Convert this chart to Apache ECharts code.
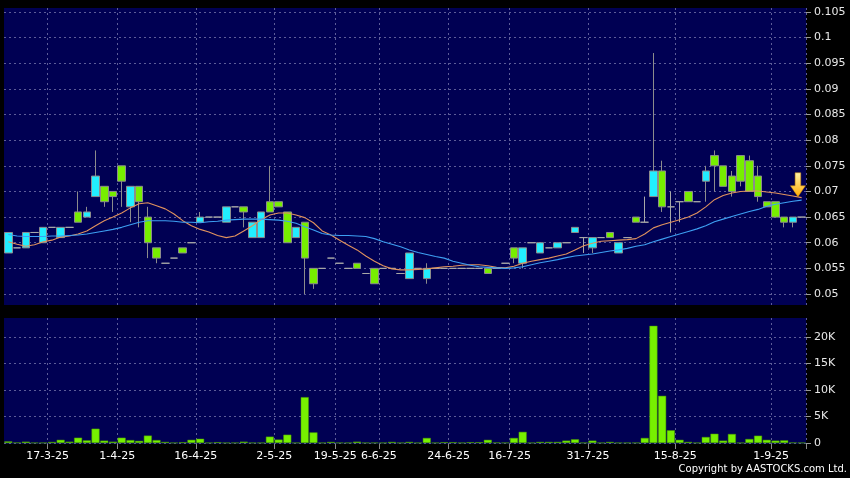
<!DOCTYPE html>
<html><head><meta charset="utf-8">
<script src="https://cdn.jsdelivr.net/npm/echarts@6/dist/echarts.min.js"></script>
<style>html,body{margin:0;padding:0;background:#000;}#c{width:850px;height:478px;}</style>
</head><body><div id="c"></div>
<script>
const opens = [
  0.058,0.059,0.059,0.062,0.060,0.063,0.061,0.063,0.066,0.065,
  0.069,0.071,0.070,0.075,0.067,0.071,0.065,0.059,0.056,0.057,
  0.059,0.060,0.064,0.065,0.065,0.064,0.067,0.067,0.061,0.061,
  0.068,0.068,0.066,0.061,0.064,0.055,0.055,0.057,0.056,0.055,
  0.056,0.054,0.055,0.055,0.055,0.054,0.053,0.055,0.053,0.055,
  0.055,0.055,0.055,0.055,0.055,0.055,0.055,0.056,0.059,0.056,
  0.060,0.058,0.059,0.059,0.060,0.062,0.061,0.059,0.061,0.062,
  0.058,0.061,0.065,0.064,0.069,0.074,0.067,0.068,0.070,0.068,
  0.072,0.077,0.075,0.073,0.077,0.076,0.073,0.068,0.068,0.065,
  0.064,0.065];
const closes = [
  0.062,0.059,0.062,0.062,0.063,0.063,0.063,0.063,0.064,0.066,
  0.073,0.068,0.069,0.072,0.071,0.068,0.060,0.057,0.056,0.057,
  0.058,0.060,0.065,0.065,0.065,0.067,0.067,0.066,0.064,0.066,
  0.066,0.067,0.060,0.063,0.057,0.052,0.055,0.057,0.056,0.055,
  0.055,0.054,0.052,0.055,0.055,0.054,0.058,0.055,0.055,0.055,
  0.055,0.055,0.055,0.055,0.055,0.054,0.055,0.056,0.057,0.059,
  0.060,0.060,0.059,0.060,0.060,0.063,0.061,0.061,0.061,0.061,
  0.060,0.061,0.064,0.064,0.074,0.067,0.067,0.068,0.068,0.068,
  0.074,0.075,0.071,0.070,0.072,0.070,0.069,0.067,0.065,0.064,
  0.065,0.065];
const lows = [
  0.058,0.059,0.059,0.062,0.060,0.063,0.061,0.063,0.064,0.065,
  0.069,0.067,0.066,0.067,0.064,0.063,0.057,0.056,0.056,0.057,
  0.058,0.060,0.064,0.065,0.065,0.064,0.067,0.063,0.061,0.061,
  0.066,0.067,0.060,0.061,0.050,0.051,0.055,0.057,0.056,0.055,
  0.055,0.054,0.052,0.055,0.055,0.054,0.053,0.055,0.052,0.055,
  0.055,0.055,0.055,0.055,0.055,0.054,0.055,0.056,0.056,0.055,
  0.060,0.058,0.059,0.059,0.060,0.062,0.058,0.058,0.061,0.061,
  0.058,0.061,0.064,0.064,0.069,0.066,0.062,0.064,0.068,0.068,
  0.068,0.070,0.071,0.069,0.071,0.070,0.068,0.067,0.065,0.063,
  0.063,0.065];
const highs = [
  0.062,0.059,0.062,0.062,0.063,0.063,0.063,0.063,0.070,0.067,
  0.078,0.071,0.070,0.075,0.071,0.071,0.067,0.059,0.056,0.057,
  0.059,0.060,0.066,0.065,0.065,0.067,0.067,0.067,0.064,0.066,
  0.075,0.068,0.066,0.063,0.064,0.055,0.055,0.057,0.056,0.055,
  0.056,0.054,0.055,0.055,0.055,0.054,0.058,0.055,0.056,0.055,
  0.055,0.055,0.055,0.055,0.055,0.055,0.055,0.056,0.059,0.059,
  0.060,0.060,0.059,0.060,0.060,0.063,0.061,0.061,0.061,0.062,
  0.060,0.061,0.065,0.069,0.097,0.076,0.070,0.068,0.070,0.068,
  0.075,0.078,0.075,0.074,0.077,0.077,0.075,0.068,0.068,0.065,
  0.065,0.065];
const volumes = [
  300,100,250,50,50,200,600,250,1000,500,
  2700,450,250,1000,550,400,1400,550,200,50,
  150,600,800,50,150,50,50,250,50,50,
  1200,650,1570,50,8650,2000,50,200,50,50,
  250,50,50,50,200,50,200,50,950,50,
  150,150,50,150,150,600,100,50,950,2100,
  50,200,200,200,450,700,50,450,50,200,
  50,50,50,950,22100,8900,2400,600,200,50,
  1130,1750,450,1700,50,750,1380,600,450,500,
  100,50];
const ma10 = [
  0.0602,0.0597,0.0593,0.0596,0.0602,0.0605,0.0611,0.0613,0.0617,0.0623,
  0.0633,0.0643,0.0650,0.0658,0.0668,0.0676,0.0678,0.0672,0.0666,0.0656,
  0.0643,0.0633,0.0626,0.0621,0.0614,0.0610,0.0613,0.0623,0.0633,0.0645,
  0.0654,0.0658,0.0658,0.0654,0.0649,0.0639,0.0623,0.0615,0.0605,0.0595,
  0.0586,0.0574,0.0564,0.0555,0.0549,0.0547,0.0547,0.0548,0.0549,0.0551,
  0.0553,0.0554,0.0556,0.0557,0.0557,0.0555,0.0552,0.0551,0.0554,0.0560,
  0.0564,0.0567,0.0570,0.0574,0.0578,0.0586,0.0594,0.0599,0.0603,0.0604,
  0.0605,0.0606,0.0608,0.0617,0.0629,0.0635,0.0640,0.0645,0.0650,0.0658,
  0.0670,0.0684,0.0692,0.0697,0.0700,0.0701,0.0701,0.0699,0.0697,0.0694,
  0.0691,0.0688];
const ma20 = [
  0.0616,0.0613,0.0612,0.0612,0.0612,0.0613,0.0613,0.0614,0.0615,0.0617,
  0.0620,0.0623,0.0626,0.0630,0.0635,0.0640,0.0643,0.0643,0.0643,0.0642,
  0.0640,0.0640,0.0639,0.0641,0.0642,0.0644,0.0645,0.0646,0.0646,0.0646,
  0.0645,0.0644,0.0642,0.0638,0.0631,0.0625,0.0618,0.0615,0.0614,0.0614,
  0.0613,0.0612,0.0608,0.0602,0.0597,0.0592,0.0586,0.0581,0.0577,0.0573,
  0.0570,0.0564,0.0560,0.0556,0.0553,0.0552,0.0551,0.0550,0.0551,0.0553,
  0.0557,0.0561,0.0564,0.0567,0.0571,0.0574,0.0576,0.0578,0.0581,0.0584,
  0.0586,0.0589,0.0593,0.0596,0.0602,0.0607,0.0612,0.0617,0.0622,0.0627,
  0.0633,0.0641,0.0646,0.0651,0.0656,0.0661,0.0665,0.0671,0.0675,0.0678,
  0.0681,0.0683];
const tickIndex = [5,13,22,31,38,43,51,58,67,77,88];
const tickLabels = ['17-3-25','1-4-25','16-4-25','2-5-25','19-5-25','6-6-25','24-6-25','16-7-25','31-7-25','15-8-25','1-9-25'];
const priceTicks = {min: 0.05, max: 0.105, step: 0.005};
const volumeTicks = {min: 0, max: 20000, step: 5000};
const arrowAt = {index: 90, price: 0.0713};

const categories = closes.map((_, i) => String(i));
const candleData = opens.map((o, i) => [o, closes[i], lows[i], highs[i]]);

const PANEL = '#000053';
const GRIDC = '#5c5c98';
const FONT = 'DejaVu Sans';
const isTick = (i) => tickIndex.indexOf(i) >= 0;
const split = {show: true, interval: isTick, lineStyle: {color: GRIDC, type: [2, 3], width: 1}};

const chart = echarts.init(document.getElementById('c'), null, {renderer: 'canvas'});
chart.setOption({
  backgroundColor: '#000',
  animation: false,
  grid: [
    {left: 4, top: 8, width: 802, height: 297, show: true, backgroundColor: PANEL, borderWidth: 0},
    {left: 4, top: 12, width: 802, height: 282},
    {left: 4, top: 318, width: 802, height: 126, show: true, backgroundColor: PANEL, borderWidth: 0},
    {left: 4, top: 337, width: 802, height: 106}
  ],
  xAxis: [
    {gridIndex: 0, type: 'category', data: categories, boundaryGap: true,
     axisLine: {show: false}, axisTick: {show: false}, axisLabel: {show: false}, splitLine: split},
    {gridIndex: 1, type: 'category', data: categories, boundaryGap: true, show: false},
    {gridIndex: 2, type: 'category', data: categories, boundaryGap: true,
     axisLine: {show: false},
     axisTick: {show: true, interval: isTick, length: 5, lineStyle: {color: '#8a8a8a'}},
     axisLabel: {show: true, interval: isTick, color: '#ffffff', fontSize: 11, fontFamily: FONT,
       margin: 7, padding: [0, 8.7, 0, 0],
       formatter: (v, i) => tickLabels[tickIndex.indexOf(i)] || ''},
     splitLine: split},
    {gridIndex: 3, type: 'category', data: categories, boundaryGap: true, show: false}
  ],
  yAxis: [
    {gridIndex: 0, type: 'value', show: false},
    {gridIndex: 1, type: 'value', position: 'right', min: priceTicks.min, max: priceTicks.max, interval: priceTicks.step,
     axisLine: {show: false}, axisTick: {show: true, length: 5, lineStyle: {color: '#9a9a9a'}},
     axisLabel: {color: '#e8e8e8', fontSize: 11, fontFamily: FONT, margin: 8},
     splitLine: {show: true, lineStyle: {color: GRIDC, type: [2, 3], width: 1}}},
    {gridIndex: 2, type: 'value', show: false},
    {gridIndex: 3, type: 'value', position: 'right', min: volumeTicks.min, max: volumeTicks.max, interval: volumeTicks.step,
     axisLine: {show: false}, axisTick: {show: true, length: 5, lineStyle: {color: '#9a9a9a'}},
     axisLabel: {color: '#e8e8e8', fontSize: 11, fontFamily: FONT, margin: 8,
       formatter: (v) => v === 0 ? '0' : (v / 1000) + 'K'},
     splitLine: {show: true, lineStyle: {color: GRIDC, type: [2, 3], width: 1}}}
  ],
  series: [
    {type: 'candlestick', xAxisIndex: 1, yAxisIndex: 1, data: candleData, barWidth: 8,
     itemStyle: {color: '#22eeff', color0: '#77ee00', borderColor: '#8c8c8c', borderColor0: '#8c8c8c',
       borderColorDoji: '#a8a8a8', borderWidth: 1},
     markPoint: {silent: true, animation: false,
       data: [{coord: [categories[arrowAt.index], arrowAt.price],
         symbol: 'path://M5,0 L11,0 L11,13 L16,13 L8,24 L0,13 L5,13 Z',
         symbolSize: [15, 24], symbolOffset: [5, 0],
         itemStyle: {color: {type: 'linear', x: 0, y: 0, x2: 0, y2: 1,
           colorStops: [{offset: 0, color: '#fff6a8'}, {offset: 1, color: '#ffaa00'}]},
           borderColor: '#d08a00', borderWidth: 0.5},
         label: {show: false}}]}},
    {type: 'line', xAxisIndex: 1, yAxisIndex: 1, data: ma10, showSymbol: false, symbol: 'none',
     lineStyle: {color: '#e0925e', width: 1.1}},
    {type: 'line', xAxisIndex: 1, yAxisIndex: 1, data: ma20, showSymbol: false, symbol: 'none',
     lineStyle: {color: '#3d9ff2', width: 1.1}},
    {type: 'bar', xAxisIndex: 3, yAxisIndex: 3, data: volumes, barWidth: 8, clip: false,
     itemStyle: {color: '#77f000', borderColor: '#4a9a00', borderWidth: 0.5}}
  ],
  graphic: [
    {type: 'text', right: 3, top: 464,
     style: {text: 'Copyright by AASTOCKS.com Ltd.', fill: '#ffffff', font: '10px "DejaVu Sans"'}}
  ]
});
</script></body></html>
